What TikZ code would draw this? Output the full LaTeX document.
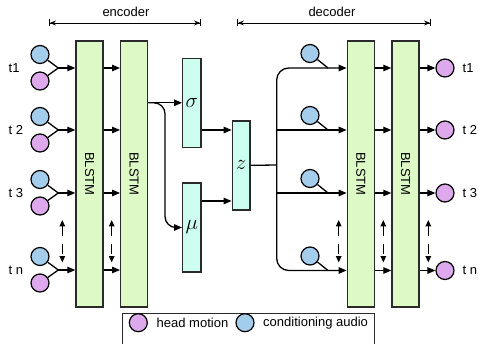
\documentclass[tikz,border=0pt]{standalone}
\usepackage{fontspec}
\setmainfont{Liberation Sans}
\usetikzlibrary{arrows.meta}
\definecolor{lstmgreen}{HTML}{DDF9C6}
\definecolor{latcyan}{HTML}{CCFFF0}
\definecolor{audioblue}{HTML}{A4CCEB}
\definecolor{motionpink}{HTML}{DDA9EC}
\definecolor{edge}{HTML}{2A2A2A}
\newcommand{\latsym}[1]{\scalebox{1.75}{$#1$}}
\begin{document}
\begin{tikzpicture}[x=1pt,y=-1pt,
  font=\fontsize{13}{15}\selectfont,
  lstm/.style={draw=edge,line width=1.4pt,fill=lstmgreen,inner sep=0pt,
    minimum width=27pt,minimum height=266pt},
  latent/.style={draw=edge,line width=1.4pt,fill=latcyan,inner sep=0pt,
    minimum width=18.3pt,minimum height=89pt},
  audio/.style={circle,draw=black,line width=1.2pt,fill=audioblue,inner sep=0pt,minimum size=18pt},
  motion/.style={circle,draw=black,line width=1.2pt,fill=motionpink,inner sep=0pt,minimum size=18pt},
  wire/.style={line width=1.3pt},
  arr/.style={wire,-{Triangle[length=8pt,width=6.5pt]}},
  seqarr/.style={wire,{Triangle[length=6.5pt,width=5.5pt]}-{Triangle[length=6.5pt,width=5.5pt]},dash pattern=on 10pt off 8pt},
  span/.style={line width=0.9pt,{Bar[width=7pt]Stealth[length=6pt,width=5pt]}-{Stealth[length=6pt,width=5pt]Bar[width=7pt]}},
  tlabel/.style={anchor=west,inner sep=0pt}]
\useasboundingbox (0,0) rectangle (478,344);

% encoder / decoder extents
\coordinate (encL) at (49,23);
\coordinate (encR) at (201,23);
\coordinate (decL) at (237,23);
\coordinate (decR) at (431,23);
\draw[span] (encL) -- (encR);
\draw[span] (decL) -- (decR);
\node (enclab) at (126,12) {encoder};
\node (declab) at (332,12) {decoder};

% BLSTM layers
\node[lstm] (enc1) at (89.5,174) {\rotatebox{-90}{BLSTM}};
\node[lstm] (enc2) at (134.2,174) {\rotatebox{-90}{BLSTM}};
\node[lstm] (dec1) at (360.8,174) {\rotatebox{-90}{BLSTM}};
\node[lstm] (dec2) at (405.5,174) {\rotatebox{-90}{BLSTM}};

% latent variables
\node[latent] (sigma) at (191.85,102.8) {\latsym{\sigma}};
\node[latent] (mu) at (191.85,227.5) {\latsym{\mu}};
\node[latent,minimum width=17.7pt] (z) at (241.15,165.35) {\latsym{z}};

% encoder inputs, one row per time step
\foreach \r/\y/\t in {1/68/t1,2/130/t 2,3/193/t 3,4/270/t n}{
  \node[audio] (ea\r) at (40,\y-13.5) {};
  \node[motion] (em\r) at (40,\y+13) {};
  \coordinate (ej\r) at (58.3,\y);
  \node[tlabel] (et\r) at (8.5,\y) {\t};
  \draw[wire] (ea\r) -- (ej\r);
  \draw[wire] (em\r) -- (ej\r);
  \draw[arr] (ej\r) -- (enc1.west |- ej\r);
  \draw[arr] (enc1.east |- ej\r) -- (enc2.west |- ej\r);
}

% encoder to latent space
\coordinate (split) at (165,165);
\draw[arr] (enc2.east |- sigma.west) -- (sigma.west);
\draw[arr,rounded corners=11pt] (enc2.east |- sigma.west) -| (split) |- (mu.west);
\coordinate (sz) at (201,130);
\coordinate (mz) at (201,201);
\draw[arr] (sigma.east |- sz) -- (z.west |- sz);
\draw[arr] (mu.east |- mz) -- (z.west |- mz);

% latent sample fanned out to the decoder
\coordinate (fan) at (276.7,165);
\draw[wire] (z.east) -- (fan);
\foreach \r/\y/\t in {1/68/t1,2/130/t 2,3/193/t 3,4/270.5/t n}{
  \coordinate (dr\r) at (276.7,\y);
  \coordinate (dj\r) at (328,\y);
  \node[audio] (da\r) at (310,\y-14.5) {};
  \node[motion] (dm\r) at (445,\y) {};
  \node[tlabel] (dt\r) at (462.5,\y) {\t};
  \draw[wire] (da\r) -- (dj\r);
  \draw[arr] (dec1.east |- dj\r) -- (dec2.west |- dj\r);
  \draw[arr] (dec2.east |- dj\r) -- (dm\r);
}
\draw[arr,rounded corners=12pt] (fan) |- (dec1.west |- dj1);
\draw[arr,rounded corners=12pt] (fan) |- (dec1.west |- dj4);
\draw[arr] (dr2) -- (dec1.west |- dr2);
\draw[arr] (dr3) -- (dec1.west |- dr3);

% sequence continues between t3 and tn
\foreach \n/\x in {a/62.3,b/111.7,c/338.7,d/383.3,e/428.3}{
  \coordinate (s\n) at (\x,220);
  \coordinate (e\n) at (\x,262.5);
  \draw[seqarr] (s\n) -- (e\n);
}

% legend
\draw[line width=0.9pt,draw=edge] (122.7,313.3) rectangle (374.3,350);
\node[motion] (lm) at (138.3,322.7) {};
\node[anchor=west,inner sep=0pt] (lmt) at (156.5,322.7) {head motion};
\node[audio] (la) at (245,322.7) {};
\node[anchor=west,inner sep=0pt] (lat) at (263,322.7) {conditioning audio};
\end{tikzpicture}
\end{document}
